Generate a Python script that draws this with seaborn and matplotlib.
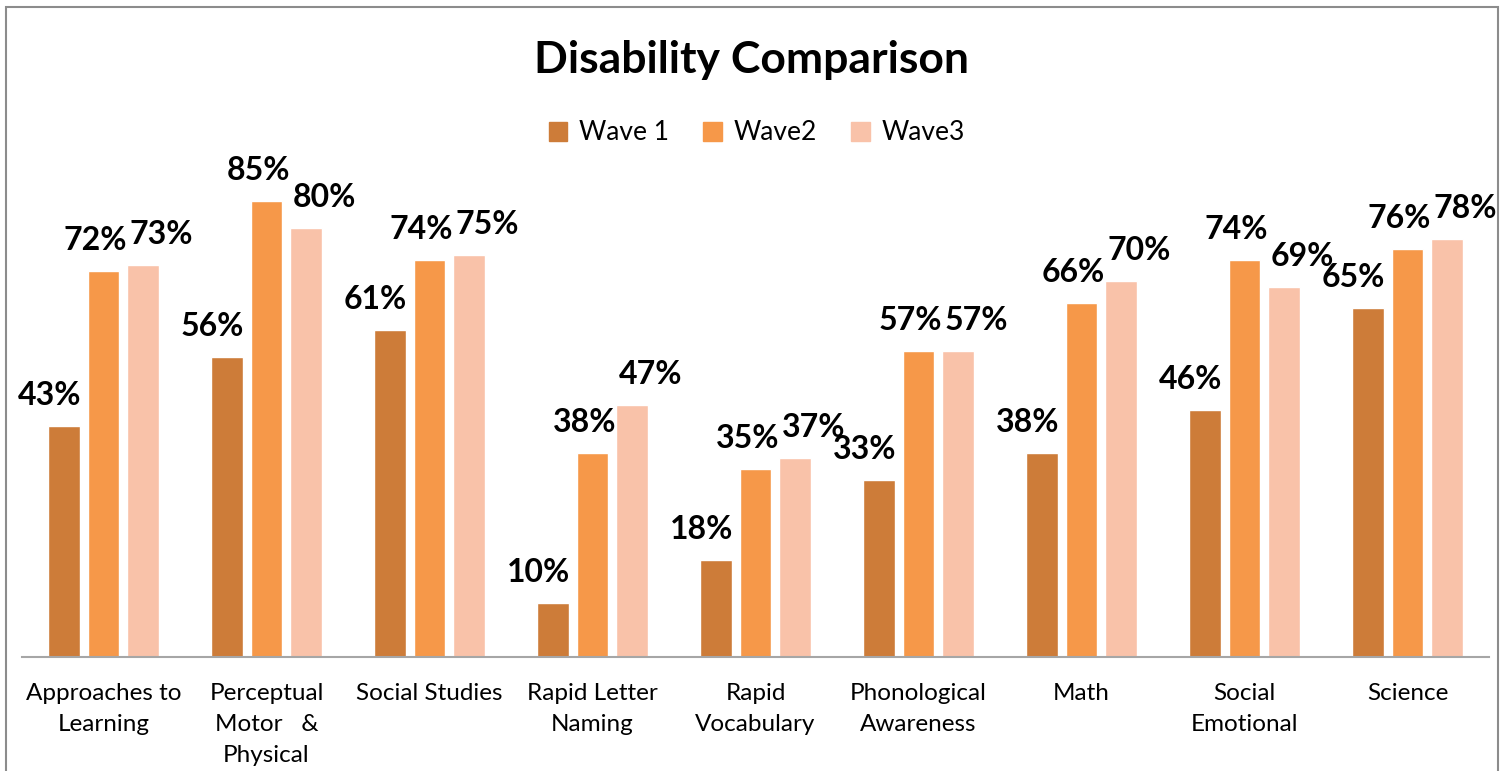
import numpy as np
import pandas as pd
import matplotlib
matplotlib.use("Agg")
import matplotlib.pyplot as plt
import seaborn as sns
from matplotlib.patches import Rectangle

# datos
categories = ["Approaches to\nLearning", "Perceptual\nMotor   &\nPhysical", "Social Studies",
              "Rapid Letter\nNaming", "Rapid\nVocabulary", "Phonological\nAwareness",
              "Math", "Social\nEmotional", "Science"]
waves = ["Wave 1", "Wave2", "Wave3"]
wave1 = [43, 56, 61, 10, 18, 33, 38, 46, 65]
wave2 = [72, 85, 74, 38, 35, 57, 66, 74, 76]
wave3 = [73, 80, 75, 47, 37, 57, 70, 69, 78]
colors = ["#CD7C39", "#F69849", "#F9C2A9"]

df = pd.DataFrame({
    "cat": categories * 3,
    "wave": [w for w in waves for _ in categories],
    "val": wave1 + wave2 + wave3,
})

sns.set_style("white")
plt.rcParams['font.family'] = ['Lato', 'DejaVu Sans']
plt.rcParams['text.color'] = 'black'
plt.rcParams['xtick.color'] = 'black'

fig = plt.figure(figsize=(15.04, 7.71), dpi=100)
ax = fig.add_axes([22/1504, 114/771, 1467/1504, 536.5/771])

sns.barplot(data=df, x="cat", y="val", hue="wave", palette=colors, saturation=1,
            width=0.736, gap=0.2, ax=ax, legend=False)

ax.set_xlim(-0.5, len(categories) - 0.5)
ax.set_ylim(0, 100)
ax.set_xlabel("")
ax.set_ylabel("")
ax.set_yticks([])
for s in ["top", "right", "left"]:
    ax.spines[s].set_visible(False)
ax.spines["bottom"].set_color("#a6a6a6")
ax.spines["bottom"].set_linewidth(1.5)
ax.tick_params(axis="x", length=0, pad=19, labelsize=17.5, labelcolor="black")
for t in ax.get_xticklabels():
    t.set_linespacing(1.57)

# etiquetas de los datos
dx = [-14, -8, 18]
for i, cont in enumerate(ax.containers):
    for rect in cont:
        h = rect.get_height()
        ax.annotate(f"{h:.0f}%", xy=(rect.get_x() + rect.get_width() / 2, h),
                    xytext=(dx[i], 21), textcoords="offset pixels",
                    ha="center", va="baseline", fontsize=23, fontweight="bold",
                    color="black", annotation_clip=False)

fig.text(0.5, 1 - 60/771, "Disability Comparison", ha="center", va="center",
         fontsize=32, fontweight="bold", color="black")

handles = [Rectangle((0, 0), 1, 1, color=c) for c in colors]
fig.legend(handles, waves, loc="center", bbox_to_anchor=(757/1504, 1 - 133/771),
           ncol=3, frameon=False, fontsize=19, handlelength=0.7, handleheight=0.7,
           handletextpad=0.45, columnspacing=1.3)

# marco del grafico
fig.patches.append(Rectangle((6/1504, -0.05), 1492/1504, 1.05 - 7/771,
                             transform=fig.transFigure, fill=False,
                             edgecolor="#8c8c8c", linewidth=1.5))

fig.savefig("out.png", dpi=100)
